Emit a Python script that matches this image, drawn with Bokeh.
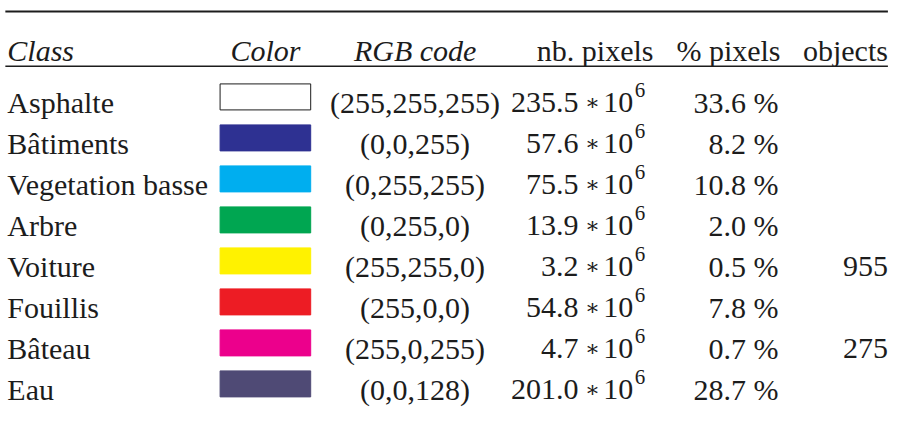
from bokeh.plotting import figure
from bokeh.models import Range1d, ColumnDataSource
from bokeh.core.properties import value
from bokeh.embed import file_html
from bokeh.resources import INLINE

# ---- data ----
classes = ["Asphalte", "Bâtiments", "Vegetation basse", "Arbre", "Voiture", "Fouillis", "Bâteau", "Eau"]
swatch_colors = ["#FFFFFF", "#2E3192", "#00AEEF", "#00A651", "#FFF200", "#ED1C24", "#EC008C", "#4F4A75"]
rgb_codes = ["(255,255,255)", "(0,0,255)", "(0,255,255)", "(0,255,0)", "(255,255,0)", "(255,0,0)", "(255,0,255)", "(0,0,128)"]
nb_pixels_millions = [235.5, 57.6, 75.5, 13.9, 3.2, 54.8, 4.7, 201.0]
pct_pixels = [33.6, 8.2, 10.8, 2.0, 0.5, 7.8, 0.7, 28.7]
objects = ["", "", "", "", "955", "", "275", ""]
headers_italic = ["Class", "Color", "RGB code"]
headers_plain = ["nb. pixels", "% pixels", "objects"]

FONT = value("Liberation Serif")
INK = "#1c1c1c"
FS = "30px"

W, H = 893, 407
p = figure(width=W, height=H, output_backend="svg", toolbar_location=None,
           x_range=Range1d(0, W), y_range=Range1d(H, 0),
           min_border=0, outline_line_color=None)
p.axis.visible = False
p.grid.visible = False
p.background_fill_color = "white"
p.border_fill_color = "white"

# layout helpers: reference layout squeezed into the frame
def X(x):
    return 0.985 * x - 5

def Y(y):
    return 11 + (y - 12) * 0.944

n = len(classes)
ys = [Y(108.3 + 43.43 * i) for i in range(n)]
header_y = Y(53)

# rules
p.line(x=[X(10), X(906)], y=[Y(12), Y(12)], line_color=INK, line_width=2)
p.line(x=[X(10), X(906)], y=[Y(70), Y(70)], line_color=INK, line_width=1.3)

# headers
p.text(x=[X(12)], y=[header_y], text=[headers_italic[0]], text_font=FONT, text_font_size=FS,
       text_font_style="italic", text_color=INK, text_align="left", text_baseline="alphabetic")
p.text(x=[X(274), X(426)], y=[header_y, header_y], text=headers_italic[1:],
       text_font=FONT, text_font_size=FS, text_font_style="italic", text_color=INK,
       text_align="center", text_baseline="alphabetic")
p.text(x=[X(668), X(797), X(906)], y=[header_y] * 3, text=headers_plain,
       text_font=FONT, text_font_size=FS, text_color=INK, text_align="right", text_baseline="alphabetic")

src = ColumnDataSource(dict(
    y=ys,
    cls=classes,
    col=swatch_colors,
    line=[INK if c == "#FFFFFF" else c for c in swatch_colors],
    rgb=rgb_codes,
    num=[f"{v:.1f}" for v in nb_pixels_millions],
    star=["\u2217"] * n,
    ten=["10"] * n,
    exp=["6"] * n,
    exp_y=[y - 12 for y in ys],
    pct=[f"{v:.1f} %" for v in pct_pixels],
    obj=objects,
    sw_top=[y - 18.5 for y in ys],
    sw_bot=[y + 7.5 for y in ys],
))

p.text(x=X(12), y="y", text="cls", source=src, text_font=FONT, text_font_size=FS,
       text_color=INK, text_align="left", text_baseline="alphabetic")
p.quad(left=X(228), right=X(320), top="sw_top", bottom="sw_bot", source=src,
       fill_color="col", line_color="line", line_width=1)
p.text(x=X(426), y="y", text="rgb", source=src, text_font=FONT, text_font_size=FS,
       text_color=INK, text_align="center", text_baseline="alphabetic")
p.text(x=X(592), y="y", text="num", source=src, text_font=FONT, text_font_size=FS,
       text_color=INK, text_align="right", text_baseline="alphabetic")
p.text(x=X(606), y="y", text="star", source=src, text_font=value("DejaVu Serif"), text_font_size="22px",
       text_color=INK, text_align="center", text_baseline="alphabetic")
p.text(x=X(617), y="y", text="ten", source=src, text_font=FONT, text_font_size=FS,
       text_color=INK, text_align="left", text_baseline="alphabetic")
p.text(x=X(649), y="exp_y", text="exp", source=src, text_font=FONT, text_font_size="21px",
       text_color=INK, text_align="left", text_baseline="alphabetic")
p.text(x=X(795), y="y", text="pct", source=src, text_font=FONT, text_font_size=FS,
       text_color=INK, text_align="right", text_baseline="alphabetic")
p.text(x=X(906), y="y", text="obj", source=src, text_font=FONT, text_font_size=FS,
       text_color=INK, text_align="right", text_baseline="alphabetic")

open("out.html", "w").write(file_html(p, INLINE))
